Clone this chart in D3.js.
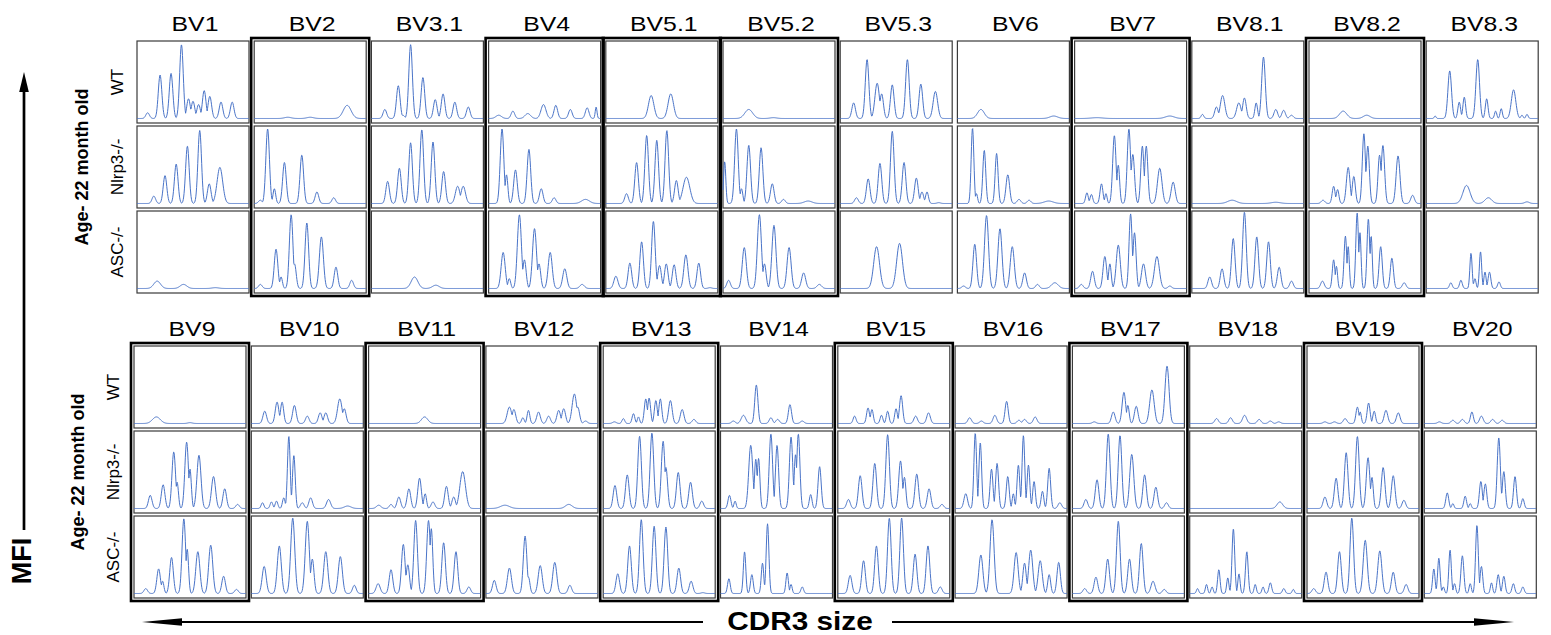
<!DOCTYPE html>
<html>
<head>
<meta charset="utf-8">
<script src="https://cdn.jsdelivr.net/npm/d3@7/dist/d3.min.js"></script>
<style>
  body { margin: 0; background: #fff; }
  text { font-family: "Liberation Sans", Arial, sans-serif; fill: #000; }
</style>
</head>
<body>
<script>
// TCR Vβ スペクトラタイプ (CDR3 長分布)
const categories = ["BV1","BV2","BV3.1","BV4","BV5.1","BV5.2","BV5.3","BV6","BV7","BV8.1","BV8.2","BV8.3",
                    "BV9","BV10","BV11","BV12","BV13","BV14","BV15","BV16","BV17","BV18","BV19","BV20"];
const rowLabels = ["WT", "Nlrp3-/-", "ASC-/-"];
const ageLabel = "Age- 22 month old";
const boxed = ["BV2","BV4","BV5.1","BV5.2","BV7","BV8.2","BV9","BV11","BV13","BV15","BV17","BV19"];

// ピーク: [CDR3位置(0-100), 高さ(0-100), 幅(省略可)]
const wtPeaks = [
  [[9.5,7],[20.6,53],[30.4,55],[39.7,90],[46,24],[50,21],[55,17],[60,34],[65,27],[75,20],[85,20]],
  [[83,16,3.5],[30,1.5,3],[50,1.5,3]],
  [[12,11],[24,40],[28,4],[35,90],[46,50],[57,23],[64,30],[74.5,20],[86.5,14]],
  [[9,4,2.5],[21.7,9],[35,6,2.5],[49,17,2.2],[60,16],[73,11],[88,13],[96,14,0.8]],
  [[40.5,28,2.4],[58,30,2.4]],
  [[23,11,3.5],[45,1,3]],
  [[12,19],[24,72],[33,43,2],[37,30],[46.5,41],[60,72],[72,42],[85,33,2]],
  [[21,11,3],[86,3,3.5]],
  [[85,3,4],[20,1,5]],
  [[9.5,5,1.2],[22,14],[27.5,28,2],[42,19,2],[47,25],[57.5,19,1.2],[64,75],[75,11],[82,10],[89,4]],
  [[30.5,9,3.2],[51.5,4,3]],
  [[8,3,0.8],[21,58],[29.5,20,1.2],[34,26,1.2],[46,72],[54,24,1.2],[62,9,1],[67,12,1],[78,35,2],[85.5,4,1],[90,5,1]],
  [[20,8,3.5],[50,1,2]],
  [[12,15],[23,26],[27.5,26,1.4],[38.5,22],[50,9],[61.5,13],[66.5,13],[79,30,2],[83,18]],
  [[50,8,2.8]],
  [[21,20,2],[25,17],[33,7,1.2],[38,16,1.2],[47,14],[56,9],[65,16],[69.5,18],[79,36,2],[82,20],[89,3]],
  [[10,2],[18,6,1.2],[27,12,1.2],[31.5,8,1],[38,30,1.3],[41,31,1.3],[47,28,1.3],[51,30,1.3],[60,28],[70.5,17],[81,5]],
  [[11.5,3],[20.5,10,2],[32,47,1.4],[45,7,1.5],[51,5],[62,23,1.4],[73,3]],
  [[15,9,1.3],[27,19,1.3],[30.5,17,1.2],[39,10,1.2],[44.5,15,1.2],[52,18,1.2],[56.5,34,1.4],[69.5,9],[81,13]],
  [[13,7],[23.5,3],[35.5,10],[46,27,1.4],[57,4],[62,5],[71.5,8]],
  [[19.5,2],[36.5,14,1.6],[46,38],[49.5,22,1.2],[57,21],[71,41,2],[84.5,70,1.8]],
  [[24,6],[36.5,7],[49,10,1.8],[62,5],[72,3],[79.5,2]],
  [[16,2],[24.5,2],[34,6],[45,20,1.3],[47.5,14,1],[55,25,1.3],[60,15,1.2],[70.5,16],[81.5,13]],
  [[13.5,2],[25.5,4],[34,5],[42.5,14,1.3],[51,9],[61,5],[69.5,4]]
];

const nlrpPeaks = [
  [[15,9],[25,34],[35,48],[45,70],[56,89],[64.5,24],[74,44,2.5]],
  [[5.5,4],[12,91],[18,18,1.2],[27,50],[42.5,59],[56,14],[71,7]],
  [[14.5,27],[25,43],[35,74],[45,90],[55,75],[64.5,39],[77,21,2],[82,21,2]],
  [[12,91],[16,35,1.2],[24,41],[36,66],[47,18],[58.5,7],[86.5,5,3.5]],
  [[18.5,12],[27.5,50],[36.5,83],[45.5,77],[54.5,89],[63,28],[72,32,3]],
  [[1.5,51,1],[12,91],[16.5,18,1.2],[23,71],[34,68],[44,24],[54,5],[76,3,3.5]],
  [[14.5,7],[25,30],[35.5,49],[46.5,88],[57,50],[68,31],[73,14,1.5],[77.5,14,1.3],[88,1]],
  [[13.5,92,1.2],[17,12,1],[24,65,1.3],[35,61,1.3],[45,35],[55,5],[64,4],[81.5,3,4]],
  [[11,13,1.2],[15,11,1.2],[24,24,1.3],[28,12,1],[35.5,83,1.5],[39,47,1.2],[48.5,91,1.5],[52,60,1.5],[60.5,70,1.4],[64,70,1.4],[76,43,2],[88,26,1.8]],
  [[36,4,4],[75,1.5,4]],
  [[12.5,4],[22,21,1.3],[25.5,17,1.2],[35,44,1.6],[40,33,1.4],[49,85,1.4],[52.5,70,1.4],[63,59,1.4],[66,71,1.5],[79.5,58,1.7],[92.5,10]],
  [[36,22,3.2],[55.5,7,3],[90,2,2]],
  [[14.5,16],[26,29],[35.5,69],[38.5,32,1.2],[47,81],[50,48,1.2],[58,65,1.8],[71,39,1.8],[81,24],[92.5,5]],
  [[10,7,1.2],[18,8,1.2],[22.5,9,1.2],[29,13,1.2],[33.5,88,1.2],[38,65,1.2],[45.5,7],[53,13],[69,11,1.8],[86,3,3]],
  [[9,4,2],[20,5,1.5],[27,14],[36,24],[45.5,37],[50.5,18,1.2],[57.5,8],[69.5,27],[76,14],[84,45,2.5]],
  [[17,4,4],[74,5,3]],
  [[10.5,28],[21.5,41],[32.5,88],[43.5,92],[53.5,82],[56,50,1.5],[67,44],[78,32],[88,9]],
  [[8,16,1.3],[13,9,1],[27,77,1.8],[31.5,60,1.2],[34,61,1.2],[45,91,1.5],[50.5,77,1.4],[63,87,1.5],[67,66,1.2],[69.5,91,1.4],[80.5,17,1.2],[88.5,51,1.4]],
  [[9.5,11],[20,40],[33,55],[44.5,90],[56,58],[59.5,38,1.3],[70.5,42],[81.5,24],[93,5]],
  [[9.5,18],[18,92,1.2],[22.5,80,1.2],[32.5,48,1.3],[37.5,55,1.3],[47,39,1.3],[52,18,1],[56.5,53,1.2],[61,89,1.2],[65.5,53,1.2],[70.5,33,1.2],[78,21,1.2],[84,49,1.3],[93.5,7]],
  [[12,11],[22,35],[32,91],[42.5,89],[53,66,1.8],[64.5,41],[74.5,26],[84,7]],
  [[80.5,8,2.5]],
  [[16,14],[26,37],[35,68],[45,88],[54.5,62],[58,38,1.2],[68,50],[77,40],[86.5,10]],
  [[20.5,19,1.3],[25.5,6,1],[36.5,15,1.2],[41,6,1],[50.5,33,1.3],[54.5,30,1.3],[66.5,86,1.4],[71,45,1.3],[81,39,1.3],[88,12,1.2]]
];

const ascPeaks = [
  [[18,9,3],[41.5,5,3],[70,1,3]],
  [[5.5,5],[19.5,48],[24,14,1.2],[33,90],[36,30,1.5],[47,80],[60,63,1.8],[73,26],[87,10]],
  [[38.5,14,3],[57.5,4,3]],
  [[13,44,1.8],[18.5,12,1.2],[27.5,90,1.8],[32,35,1.5],[41,73,1.8],[45,30,1.5],[55,44,1.8],[68,24,1.8],[83.5,5,2]],
  [[9,15,1.8],[21.5,31],[32,57],[42.5,82],[48,28],[54,30],[61,29],[71.5,41,1.8],[83,31],[93,1]],
  [[5,10],[19,50,1.8],[32.5,90,1.8],[37,30,1.5],[45.5,77,1.8],[59,50,1.8],[72,19,1.8],[86,5,2]],
  [[32.5,51,2.6],[53,55,2.6]],
  [[5.5,3],[15.5,54],[26,89,1.8],[38,73,1.8],[49,51,1.8],[60,19],[71.5,5],[87,7,3]],
  [[6,5],[16,21],[27,39],[31.5,30,1.2],[39,53,1.8],[50,91,1.4],[53.5,68,1.4],[61.5,30,1.8],[73.5,39,2.2],[85,3]],
  [[16,14],[27,24],[37,61],[47,93],[58,63],[68.5,57],[78,26],[89,9]],
  [[12,9],[22,35,1.2],[24.5,27,1],[32.5,64,1.2],[35,51,1],[43,92,1.2],[45.5,68,1],[53,85,1.2],[55.5,64,1],[64,51,1.4],[74,37,1.4],[85,7]],
  [[22,7,1.2],[31,10,1.2],[40,43,1],[43.5,12,1],[48.5,45,1],[52.5,20,1],[56.5,20,1.2],[65,8,1.2]],
  [[10.5,6],[22,30],[25.5,15,1.2],[33.5,44],[44.5,91],[47.5,54,1.2],[57,51,1.8],[68.5,59,1.8],[80,21],[91.5,5]],
  [[11.5,33,1.8],[25,58,1.8],[37,92,1.8],[50,88,1.8],[54.5,42,1.5],[66.5,51,1.8],[79.5,45,1.8],[92,10]],
  [[8.5,12,1.8],[20,29],[31,60],[35,35,1.5],[42,89],[53.5,89],[56,79,1.3],[67,62],[78,51],[89.5,8]],
  [[7.5,16],[21,31,1.8],[35,70],[38,20,1.3],[48.5,34,1.8],[61.5,38,1.8],[75,10]],
  [[13,24],[23.5,58],[34,90],[45.5,82],[56,81],[67.5,31],[78.5,15],[89,1]],
  [[7.5,18,1.2],[21.5,51,1.1],[28,23,1.2],[37.5,37,1.1],[42,85,1.2],[59.5,25,1.1],[63,11,1],[73,8,1.2]],
  [[11,22],[23,40],[34.5,58],[46,92],[57,92],[69,48],[80.5,58],[91.5,8]],
  [[23,47,1.8],[33,90,1.8],[54.5,50,1.8],[62,37,1.5],[67.5,53,1.8],[76,40,1.8],[84,23,1.3],[92.5,38,1.5]],
  [[11,6],[21,20],[31.5,42],[41,88],[51,42],[61.5,61],[72,15,1.8],[82,5]],
  [[7,6,1],[15,11,1],[20,8,1],[26,29,1.1],[34,19,1],[39,79,1.2],[44,24,1],[51,51,1.2],[58.5,11,1],[65.5,8,1],[72,13,1.2],[84,6,1.2],[92.5,5,1]],
  [[6,6],[17,26],[29,51],[40,92],[52,65,1.8],[65,52,1.8],[77,26],[88.5,11]],
  [[8.5,30,1.1],[13,43,1.1],[17,8,1],[23,53,1.1],[27,12,1],[34,46,1.3],[41,12,1],[47,83,1.2],[51,33,1.2],[60,13,1],[66,23,1.2],[71,21,1.2],[79.5,12,1.2],[88,8,1.2]]
];
const rowPeaks = [wtPeaks, nlrpPeaks, ascPeaks];

// レイアウト
const W = 1551, H = 635;
const panelW = 112, panelH = 82, rowStep = 85;
const blocks = [
  {top: 41, left: 137, step: 117.2, titleY: 31, labelX: 117, ageX: 82},
  {top: 346, left: 134, step: 117.3, titleY: 336, labelX: 113, ageX: 78}
];
const lineColor = "#4a74c8";

const svg = d3.select("body").append("svg")
  .attr("width", W).attr("height", H);

// パネル内スケール
const x = d3.scaleLinear().domain([0, 100]).range([0, panelW]);
const y = d3.scaleLinear().domain([0, 100]).range([panelH * 0.945, panelH * -0.055]);
const samples = d3.range(0, 100.001, 0.35);
const line = d3.line().x(d => x(d[0])).y(d => y(d[1]));

function trace(peaks) {
  return samples.map(t => {
    let v = 0;
    peaks.forEach(p => {
      const s = p[2] || 1.6;
      v = Math.max(v, p[1] * Math.exp(-((t - p[0]) ** 2) / (2 * s * s)));
    });
    return [t, v];
  });
}

blocks.forEach((b, bi) => {
  const g = svg.append("g");
  const cats = categories.slice(bi * 12, bi * 12 + 12);

  cats.forEach((cat, ci) => {
    const ci24 = bi * 12 + ci;
    const px = b.left + ci * b.step;

    // 横長の見出し
    g.append("text")
      .attr("transform", `translate(${px + panelW / 2 + 2},${b.titleY}) scale(1.24,1)`)
      .attr("text-anchor", "middle")
      .style("font-size", "20px")
      .text(cat);

    rowLabels.forEach((r, ri) => {
      const py = b.top + ri * rowStep;
      const pg = g.append("g").attr("transform", `translate(${px},${py})`);
      pg.append("rect")
        .attr("width", panelW).attr("height", panelH)
        .attr("fill", "#fff")
        .attr("stroke", "#3a3a3a")
        .attr("stroke-width", 1.2);
      pg.append("path")
        .attr("d", line(trace(rowPeaks[ri][ci24])))
        .attr("fill", "none")
        .attr("stroke", lineColor)
        .attr("stroke-width", 1)
        .attr("stroke-linejoin", "round");
    });

    // 太枠
    if (boxed.includes(cat)) {
      g.append("rect")
        .attr("x", px - 3).attr("y", b.top - 3)
        .attr("width", panelW + 6)
        .attr("height", 2 * rowStep + panelH + 6)
        .attr("fill", "none")
        .attr("stroke", "#000")
        .attr("stroke-width", 2.6);
    }
  });

  // 行ラベル
  rowLabels.forEach((r, ri) => {
    const cy = b.top + ri * rowStep + panelH / 2;
    g.append("text")
      .attr("transform", `translate(${b.labelX},${cy}) rotate(-90)`)
      .attr("text-anchor", "middle")
      .attr("dy", "0.35em")
      .style("font-size", "17px")
      .text(r);
  });

  g.append("text")
    .attr("transform", `translate(${b.ageX},${b.top + rowStep + panelH / 2}) rotate(-90)`)
    .attr("text-anchor", "middle")
    .attr("dy", "0.35em")
    .style("font-size", "18px")
    .style("font-weight", "bold")
    .text(ageLabel);
});

// MFI 軸
svg.append("line")
  .attr("x1", 24).attr("y1", 530)
  .attr("x2", 24).attr("y2", 88)
  .attr("stroke", "#000").attr("stroke-width", 2.7);
svg.append("path")
  .attr("d", "M24,72 L28.8,92 L19.2,92 Z")
  .attr("fill", "#000");
svg.append("text")
  .attr("transform", "translate(22,561) rotate(-90)")
  .attr("text-anchor", "middle")
  .attr("dy", "0.35em")
  .style("font-size", "27px")
  .style("font-weight", "bold")
  .text("MFI");

// CDR3 size 軸
svg.append("line")
  .attr("x1", 703).attr("y1", 622)
  .attr("x2", 170).attr("y2", 622)
  .attr("stroke", "#000").attr("stroke-width", 1.8);
svg.append("path")
  .attr("d", "M142,622 L182,618.2 L182,625.8 Z")
  .attr("fill", "#000");
svg.append("line")
  .attr("x1", 892).attr("y1", 622)
  .attr("x2", 1490).attr("y2", 622)
  .attr("stroke", "#000").attr("stroke-width", 1.8);
svg.append("path")
  .attr("d", "M1514,622 L1474,618.2 L1474,625.8 Z")
  .attr("fill", "#000");
svg.append("text")
  .attr("transform", "translate(800,630) scale(1.19,1)")
  .attr("text-anchor", "middle")
  .style("font-size", "25px")
  .style("font-weight", "bold")
  .text("CDR3 size");
</script>
</body>
</html>
